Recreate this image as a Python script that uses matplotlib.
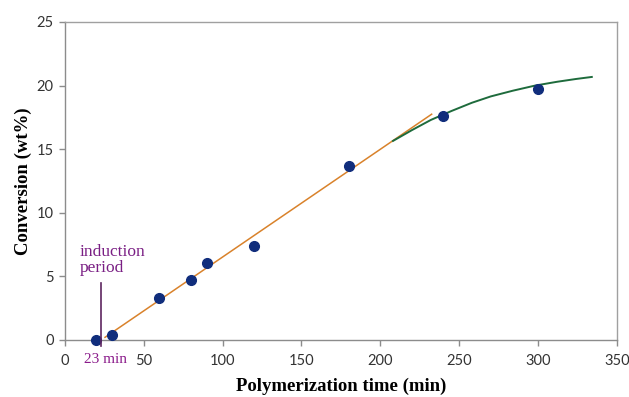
import numpy as np
import matplotlib
matplotlib.use('Agg')
import matplotlib.pyplot as plt

# measured conversion vs polymerization time
time_min = [20, 30, 60, 80, 90, 120, 180, 240, 300]
conversion = [0.0, 0.4, 3.3, 4.7, 6.05, 7.4, 13.7, 17.6, 19.7]

# linear trend over the steady part (starts at the end of induction)
lin_t = [25.5, 232.5]
lin_y = [0.21, 17.75]

# levelling-off trend at long times
curve_t = [208, 220, 232, 245, 258, 270, 284, 298, 312, 324, 334]
curve_y = [15.65, 16.5, 17.3, 18.0, 18.65, 19.15, 19.6, 20.0, 20.3, 20.52, 20.68]

induction_t = 23
xticks = [0, 50, 100, 150, 200, 250, 300, 350]
yticks = [0, 5, 10, 15, 20, 25]

serif = ['Liberation Serif', 'DejaVu Serif']
tickfont = ['Lato', 'DejaVu Sans']

fig = plt.figure(figsize=(6.29, 3.97), dpi=100)
ax = fig.add_axes([0.103, 0.1436, 0.878, 0.801])

ax.plot(lin_t, lin_y, color='#d9822b', lw=1.1, zorder=2)
ax.plot(curve_t, curve_y, color='#1e6b3c', lw=1.4, zorder=2)
ax.plot(time_min, conversion, 'o', color='#102d7c', ms=7, zorder=3, clip_on=False)

# induction period marker
ax.plot([induction_t, induction_t], [-0.45, 4.5], color='#5e2660', lw=1.2, clip_on=False, zorder=4)
ax.text(9.5, 7.55, 'induction\nperiod', color='#7a1f84', fontsize=12.5, family=serif,
        ha='left', va='top', linespacing=1.0)
ax.text(26, -1.55, '23 min', color='#8a1a8a', fontsize=11, family=serif,
        ha='center', va='center')

ax.set_xlim(0, 350)
ax.set_ylim(0, 25)
ax.set_xticks(xticks)
ax.set_yticks(yticks)
for lbl in ax.get_xticklabels() + ax.get_yticklabels():
    lbl.set_family(tickfont)
    lbl.set_fontsize(10.5)
    lbl.set_color('#333333')
ax.tick_params(direction='out', length=4, width=1, color='#8c8c8c', pad=4)
ax.tick_params(axis='x', pad=6)
for sp in ax.spines.values():
    sp.set_color('#a0a0a0')
    sp.set_linewidth(1)
ax.spines['left'].set_color('#8c8c8c')
ax.spines['bottom'].set_color('#8c8c8c')

ax.set_xlabel('Polymerization time (min)', family=serif, fontweight='bold', fontsize=13.5, labelpad=7)
ax.set_ylabel('Conversion (wt%)', family=serif, fontweight='bold', fontsize=13.5, labelpad=3)

fig.savefig('out.png', dpi=100)
